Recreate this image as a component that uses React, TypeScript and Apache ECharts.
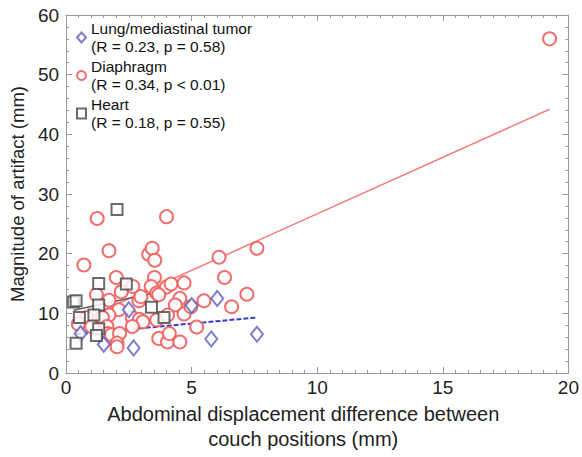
import React, { useEffect, useRef } from "react";
import * as echarts from "echarts";

// Lung/mediastinal tumor [x, y]
const lungX = [0.58, 1.5, 2.5, 2.69, 5.0, 6.02, 5.78, 7.6];
const lungY = [6.6, 4.8, 10.6, 4.2, 11.3, 12.5, 5.7, 6.5];

// Diaphragm
const diaX = [
  1.24, 4.0, 1.71, 0.71, 3.29, 3.43, 3.53, 2.0, 3.52, 1.21, 1.71, 2.2, 2.66, 3.39,
  3.61, 4.0, 4.18, 4.7, 2.9, 3.69, 4.53, 4.35, 4.7, 2.1, 1.71, 1.45, 0.82, 0.49,
  1.02, 1.63, 2.64, 2.92, 3.06, 2.64, 3.61, 4.04, 1.67, 1.81, 2.13, 2.03, 2.03,
  3.69, 4.04, 4.53, 4.11, 7.6, 6.09, 6.31, 5.49, 7.2, 6.59, 5.2, 19.25, 4.97, 2.98,
];
const diaY = [
  25.9, 26.2, 20.5, 18.1, 19.9, 20.9, 18.9, 16.0, 16.0, 13.1, 12.2, 13.6, 14.5, 14.5,
  13.4, 14.4, 14.9, 15.1, 12.1, 13.1, 12.5, 11.4, 9.9, 10.6, 9.7, 9.3, 9.3, 8.2,
  7.8, 7.8, 9.3, 9.0, 8.6, 7.8, 8.9, 9.7, 6.6, 6.4, 6.6, 5.0, 4.4,
  5.8, 5.2, 5.2, 6.6, 20.9, 19.4, 16.0, 12.1, 13.2, 11.1, 7.7, 56.0, 11.1, 12.8,
];

// Heart
const heartX = [2.03, 1.3, 2.4, 0.29, 0.4, 1.3, 3.4, 0.53, 1.11, 3.9, 1.3, 1.21, 0.4];
const heartY = [27.4, 15.0, 14.9, 11.9, 12.1, 11.4, 11.0, 9.3, 9.7, 9.3, 7.4, 6.3, 5.0];

// Regression line endpoints
const lungFitX = [0.4, 7.6];
const lungFitY = [6.5, 9.3];
const diaFitX = [0.3, 19.25];
const diaFitY = [8.3, 44.2];
const heartFitX = [0.3, 3.9];
const heartFitY = [10.5, 13.8];

const names = ["Lung/mediastinal tumor", "Diaphragm", "Heart"];
const stats = ["(R = 0.23, p = 0.58)", "(R = 0.34, p < 0.01)", "(R = 0.18, p = 0.55)"];

const xTicks = { min: 0, max: 20, interval: 5 };
const yTicks = { min: 0, max: 60, interval: 10 };

const zip = (a: number[], b: number[]) => a.map((v, i) => [v, b[i]]);

const FONT = "Liberation Sans, Arial, sans-serif";

export default function App() {
  const ref = useRef<HTMLDivElement>(null);
  useEffect(() => {
    if (!ref.current) return;
    const chart = echarts.init(ref.current, undefined, { renderer: "svg" });
    const axisCommon = {
      type: "value" as const,
      axisLine: { show: true, onZero: false, lineStyle: { color: "#9a9a9a", width: 1 } },
      axisTick: { show: true, inside: true, length: 6, lineStyle: { color: "#9a9a9a" } },
      splitLine: { show: false },
    };
    chart.setOption({
      animation: false,
      backgroundColor: "#ffffff",
      textStyle: { fontFamily: FONT },
      grid: { left: 66, right: 10, top: 15, bottom: 84, containLabel: false },
      legend: {
        data: names,
        orient: "vertical",
        left: 76,
        top: 19,
        padding: 0,
        itemWidth: 9,
        itemHeight: 10,
        itemGap: 1,
        itemTextGap: 6,
        textStyle: { fontFamily: FONT, fontSize: 15.5, color: "#111", lineHeight: 18.5 },
        formatter: (n: string) => n + "\n" + stats[names.indexOf(n)],
        selectedMode: false,
      },
      xAxis: [
        {
          ...axisCommon,
          min: xTicks.min,
          max: xTicks.max,
          interval: xTicks.interval,
          position: "bottom",
          minorTick: { show: true, splitNumber: 10, length: 3, lineStyle: { color: "#9a9a9a" } },
          axisLabel: { fontFamily: FONT, fontSize: 19, color: "#222", margin: 5 },
          name: "Abdominal displacement difference between\ncouch positions (mm)",
          nameLocation: "middle",
          nameGap: 26,
          nameTextStyle: {
            fontFamily: FONT,
            fontSize: 20,
            color: "#222",
            lineHeight: 25,
            padding: [0, 28, 0, 0],
          },
        },
        {
          ...axisCommon,
          min: xTicks.min,
          max: xTicks.max,
          interval: xTicks.interval,
          position: "top",
          minorTick: { show: true, splitNumber: 10, length: 3, lineStyle: { color: "#9a9a9a" } },
          axisLabel: { show: false },
        },
      ],
      yAxis: [
        {
          ...axisCommon,
          min: yTicks.min,
          max: yTicks.max,
          interval: yTicks.interval,
          position: "left",
          minorTick: { show: true, splitNumber: 5, length: 3, lineStyle: { color: "#9a9a9a" } },
          axisLabel: { fontFamily: FONT, fontSize: 19, color: "#222", margin: 7 },
          name: "Magnitude of artifact (mm)",
          nameLocation: "middle",
          nameGap: 37,
          nameTextStyle: { fontFamily: FONT, fontSize: 18.5, color: "#222" },
        },
        {
          ...axisCommon,
          min: yTicks.min,
          max: yTicks.max,
          interval: yTicks.interval,
          position: "right",
          minorTick: { show: true, splitNumber: 5, length: 3, lineStyle: { color: "#9a9a9a" } },
          axisLabel: { show: false },
        },
      ],
      series: [
        {
          type: "line",
          data: zip(diaFitX, diaFitY),
          symbol: "none",
          lineStyle: { color: "#f47c7c", width: 1.5 },
          silent: true,
          z: 1,
        },
        {
          type: "line",
          data: zip(heartFitX, heartFitY),
          symbol: "none",
          lineStyle: { color: "#606060", width: 1.5 },
          silent: true,
          z: 1,
        },
        {
          type: "line",
          data: zip(lungFitX, lungFitY),
          symbol: "none",
          lineStyle: { color: "#3a3ad0", width: 2, type: [5, 2] },
          silent: true,
          z: 1,
        },
        {
          name: names[0],
          type: "scatter",
          symbol: "emptyDiamond",
          symbolSize: [12, 15],
          data: zip(lungX, lungY),
          itemStyle: { color: "#5b5bc0", borderColor: "#5b5bc0", borderWidth: 1.2 },
          z: 3,
        },
        {
          name: names[1],
          type: "scatter",
          symbol: "emptyCircle",
          symbolSize: 13,
          data: zip(diaX, diaY),
          itemStyle: { color: "#ef5f5f", borderColor: "#ef5f5f", borderWidth: 1.2, opacity: 0.9 },
          z: 2,
        },
        {
          name: names[2],
          type: "scatter",
          symbol: "emptyRect",
          symbolSize: 11,
          data: zip(heartX, heartY),
          itemStyle: { color: "#454545", borderColor: "#454545", borderWidth: 1.3 },
          z: 3,
        },
      ],
    });
    return () => chart.dispose();
  }, []);
  return <div ref={ref} style={{ width: 582, height: 457, position: "absolute", left: 0, top: 0 }} />;
}
